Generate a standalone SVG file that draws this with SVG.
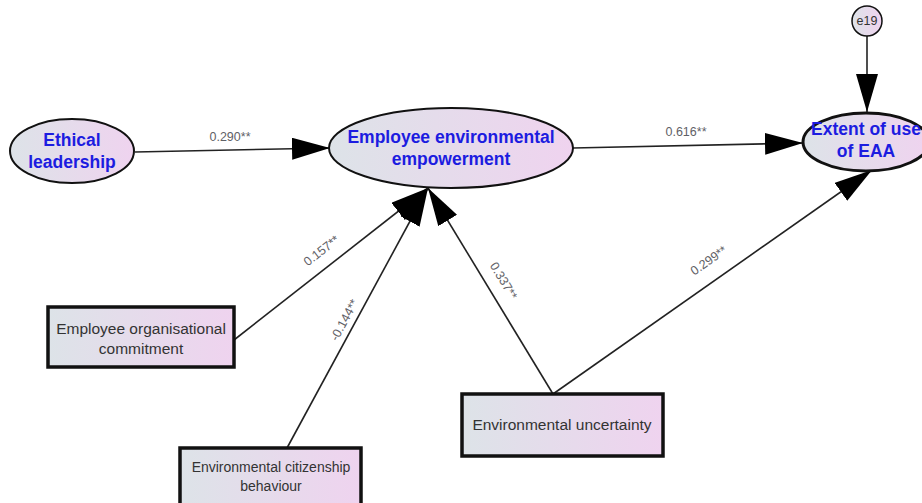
<svg xmlns="http://www.w3.org/2000/svg" width="922" height="503" viewBox="0 0 922 503">
<defs>
<linearGradient id="g" x1="0" y1="0" x2="1" y2="0">
<stop offset="0" stop-color="#dde3e8"/>
<stop offset="1" stop-color="#efd3ef"/>
</linearGradient>
<marker id="ah" viewBox="0 0 38 22" refX="38" refY="11" markerWidth="38" markerHeight="22" markerUnits="userSpaceOnUse" orient="auto">
<path d="M0,0 L38,11 L0,22 z" fill="#000"/>
</marker>
<style>
.ell{fill:url(#g);stroke:#111;stroke-width:2}
.box{fill:url(#g);stroke:#111;stroke-width:3.5}
.lat{font-family:"Liberation Sans",Arial,sans-serif;font-weight:bold;font-size:17.5px;fill:#1c1ce0;text-anchor:middle}
.obs{font-family:"Liberation Sans",Arial,sans-serif;font-size:15.5px;fill:#333;text-anchor:middle}
.lbl{font-family:"Liberation Sans",Arial,sans-serif;font-size:12.5px;fill:#5f6166;text-anchor:middle}
.con{stroke:#222;stroke-width:1.6;fill:none;marker-end:url(#ah)}
</style>
</defs>
<g id="connectors">
<line class="con" x1="135" y1="152" x2="330" y2="148"/>
<line class="con" x1="573" y1="148" x2="803" y2="143"/>
<line class="con" x1="867" y1="36" x2="867" y2="112"/>
<line class="con" x1="234" y1="340" x2="428" y2="188"/>
<line class="con" x1="287" y1="448" x2="428" y2="188"/>
<line class="con" x1="553" y1="394" x2="428" y2="188"/>
<line class="con" x1="553" y1="394" x2="872" y2="170"/>
<text class="lbl" x="230" y="141">0.290**</text>
<text class="lbl" x="686" y="136">0.616**</text>
<text class="lbl" transform="translate(324,254) rotate(-38)">0.157**</text>
<text class="lbl" transform="translate(348,322) rotate(-61.5)">-0.144**</text>
<text class="lbl" transform="translate(500,283) rotate(58.8)">0.337**</text>
<text class="lbl" transform="translate(711,264) rotate(-35)">0.299**</text>
</g>
<g id="ethical-leadership">
<ellipse class="ell" cx="72" cy="151" rx="62" ry="32"/>
<text class="lat" x="72" y="146">Ethical</text>
<text class="lat" x="72" y="168">leadership</text>
</g>
<g id="employee-environmental-empowerment">
<ellipse class="ell" cx="451" cy="148" rx="122" ry="40"/>
<text class="lat" x="451" y="143">Employee environmental</text>
<text class="lat" x="451" y="165">empowerment</text>
</g>
<g id="extent-of-use">
<ellipse class="ell" style="stroke-width:3" cx="866" cy="142" rx="63" ry="29"/>
<text class="lat" x="866" y="135">Extent of use</text>
<text class="lat" x="866" y="157">of EAA</text>
</g>
<g id="e19">
<circle class="ell" style="stroke-width:1.5" cx="867" cy="21" r="15"/>
<text class="obs" style="font-size:12.5px" x="867" y="25">e19</text>
</g>
<g id="employee-organisational-commitment">
<rect class="box" x="48" y="307" width="186" height="60"/>
<text class="obs" x="141" y="334">Employee organisational</text>
<text class="obs" x="141" y="354">commitment</text>
</g>
<g id="environmental-citizenship-behaviour">
<rect class="box" x="180" y="448" width="181" height="58"/>
<text class="obs" style="font-size:14px" x="271" y="472">Environmental citizenship</text>
<text class="obs" style="font-size:14px" x="271" y="491">behaviour</text>
</g>
<g id="environmental-uncertainty">
<rect class="box" x="462" y="394" width="201" height="62"/>
<text class="obs" x="562" y="430">Environmental uncertainty</text>
</g>
</svg>
